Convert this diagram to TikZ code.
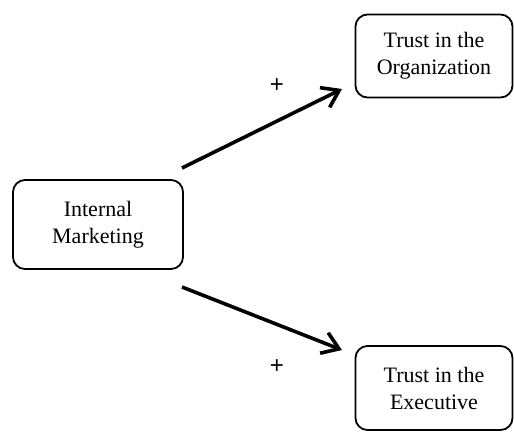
\documentclass[tikz,border=0pt]{standalone}
\usepackage{fontspec}
\setmainfont{Liberation Serif}
\newfontfamily\plusfont{Liberation Sans}
\usetikzlibrary{arrows.meta}
\begin{document}
\begin{tikzpicture}[x=1pt,y=-1pt,
  boxstyle/.style={draw, line width=1.8pt, rounded corners=12pt, align=center,
    font=\fontsize{22}{27}\selectfont, inner sep=0pt},
  arrowstyle/.style={line width=3.6pt, -{Straight Barb[length=16pt,width=22pt]}},
  signstyle/.style={font=\plusfont\fontsize{24}{26}\selectfont}]
\useasboundingbox (0,0) rectangle (514,432);
\node[boxstyle, minimum width=170pt, minimum height=89pt] (im) at (98,224.5) {Internal\\Marketing};
\node[boxstyle, minimum width=157pt, minimum height=83pt] (org) at (434,56) {Trust in the\\Organization};
\node[boxstyle, minimum width=157pt, minimum height=84pt] (exe) at (434,388) {Trust in the\\Executive};
\coordinate (s1) at (182,168);
\coordinate (t1) at (342,89);
\coordinate (s2) at (182,287);
\coordinate (t2) at (342,350);
\draw[arrowstyle] (s1) -- (t1);
\draw[arrowstyle] (s2) -- (t2);
\node[signstyle] (p1) at (277,86) {+};
\node[signstyle] (p2) at (277,367) {+};
\end{tikzpicture}
\end{document}
